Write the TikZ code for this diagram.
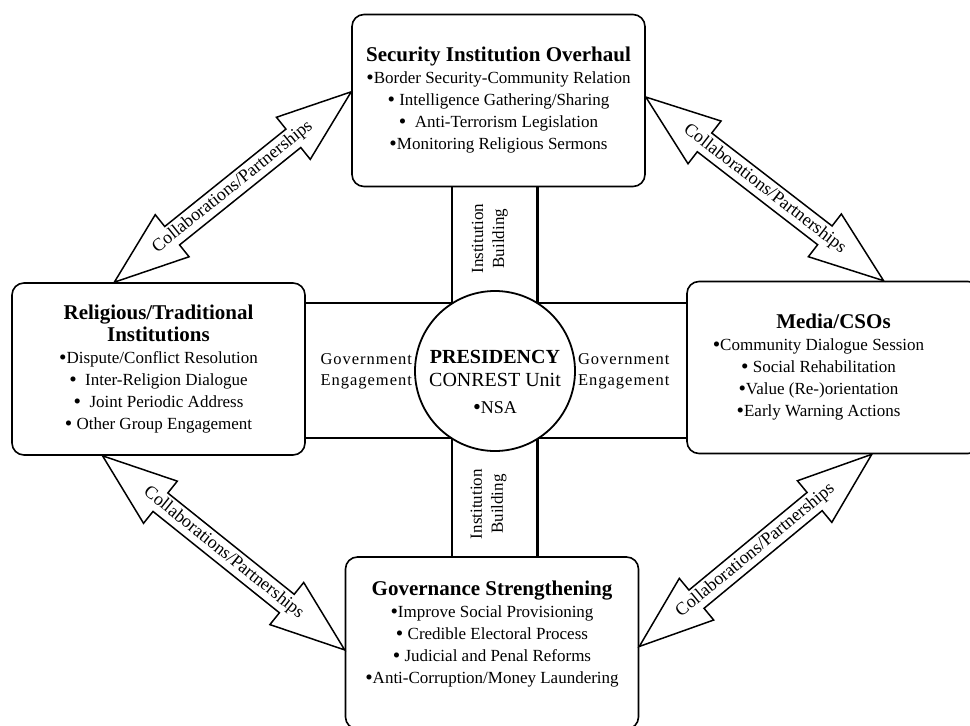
\documentclass[tikz,border=0pt]{standalone}
\usepackage{graphicx}
\usepackage{fontspec}
\setmainfont{Liberation Serif}
\usepackage{tikz}
\usetikzlibrary{calc, positioning, shapes.arrows, backgrounds}
\tikzset{
  box/.style    = {draw, line width=1.6pt, rounded corners=12pt, fill=white, align=center,
                   minimum width=293pt, minimum height=172pt, inner sep=4pt,
                   font=\fontsize{17}{22}\selectfont},
  hub/.style    = {draw, circle, line width=1.8pt, fill=white, minimum size=160pt, inner sep=0pt},
  hubtxt/.style = {align=center, inner sep=0pt, font=\fontsize{20}{23}\selectfont},
  chan/.style   = {line width=1.6pt},
  chanb/.style  = {line width=3pt},
  lbl/.style    = {align=center, inner sep=2pt, font=\fontsize{17}{21}\selectfont},
  glbl/.style   = {lbl, font=\fontsize{16.5}{21}\selectfont\addfontfeature{LetterSpace=6}},
  collab/.style = {double arrow, draw, fill=white, line width=1.5pt,
                   double arrow head extend=14pt, double arrow tip angle=40,
                   minimum width=54pt, inner sep=2pt, font=\fontsize{18}{20}\selectfont}
}
\newcommand{\ttl}[1]{{\fontsize{21}{25}\selectfont\bfseries #1}}
\newcommand{\bul}{\raisebox{-0.8pt}{\scalebox{1.25}{\textbullet}}}
\newcommand{\padr}{\makebox[30pt]{}}

\begin{document}
\begin{tikzpicture}[x=1pt, y=-1pt]
  \useasboundingbox (0,0) rectangle (970,726);

  \node[hub] (pres) at (495,371) {};
  \node[hubtxt] (prestxt) at ($(pres.center)+(0,11)$)
    {\textbf{PRESIDENCY}\\CONREST Unit\\[4pt]{\fontsize{18}{20}\selectfont\bul NSA}};

  \node[box] (sec) at (498.5,100.5)
    {\ttl{Security Institution Overhaul}\\
     \bul Border Security-Community Relation\\
     \bul\ Intelligence Gathering/Sharing\\
     \bul\ \ Anti-Terrorism Legislation\\
     \bul Monitoring Religious Sermons};
  \node[box] (rel) at (158.5,369)
    {\ttl{Religious/Traditional}\\ \ttl{Institutions}\\
     \bul Dispute/Conflict Resolution\\
     \bul\ \ Inter-Religion Dialogue\\
     \bul\ \ Joint Periodic Address\\
     \bul\ Other Group Engagement};
  \node[box] (med) at (833.5,367.5)
    {\ttl{Media/CSOs}\\
     \bul Community Dialogue Session\padr\\
     \bul\ Social Rehabilitation\padr\\
     \bul Value (Re-)orientation\padr\\
     \bul Early Warning Actions\padr};
  \node[box] (gov) at (492,643)
    {\ttl{Governance Strengthening}\\
     \bul Improve Social Provisioning\\
     \bul\ Credible Electoral Process\\
     \bul\ Judicial and Penal Reforms\\
     \bul Anti-Corruption/Money Laundering\\ ~};

  % channels behind the hub
  \begin{scope}[on background layer]
    \draw[chan] (rel.east |- 0,303) -- (med.west |- 0,303);
    \draw[chan] (rel.east |- 0,438) -- (med.west |- 0,438);
    \draw[chan] (sec.south -| 452,0) -- (gov.north -| 452,0);
    \draw[chanb] (sec.south -| 537,0) -- (gov.north -| 537,0);
  \end{scope}

  \node[glbl, left=0pt of pres] (ge1) {Government\\Engagement};
  \node[glbl, right=0pt of pres] (ge2) {Government\\Engagement};
  \node[lbl, rotate=90] (ib1) at ($(sec.south)!0.5!(pres.north)+(-7,0)$) {Institution\\Building};
  \node[lbl, rotate=90] (ib2) at ($(pres.south)!0.5!(gov.north)+(-5,0)$) {Institution\\Building};

  % collaboration arrows
  \coordinate (tl1) at ($(rel.north west)!0.35!(rel.north east)$);
  \coordinate (tl2) at ($(sec.north west)!0.45!(sec.south west)$);
  \coordinate (tr1) at ($(sec.north east)!0.48!(sec.south east)$);
  \coordinate (tr2) at ($(med.north west)!0.67!(med.north east)$);
  \coordinate (bl1) at ($(rel.south west)!0.31!(rel.south east)$);
  \coordinate (bl2) at ($(gov.north west)!0.54!(gov.south west)$);
  \coordinate (br1) at ($(gov.north east)!0.52!(gov.south east)$);
  \coordinate (br2) at ($(med.south west)!0.63!(med.south east)$);
  \foreach \ea/\eb in {tl1/tl2, tr1/tr2, bl1/bl2, br1/br2}
    \path let \p1=($(\eb)-(\ea)$), \n1={veclen(\x1,\y1)} in
      (\ea) -- (\eb) node[collab, midway, sloped, minimum height=\n1] {Collaborations/Partnerships};
\end{tikzpicture}
\end{document}
